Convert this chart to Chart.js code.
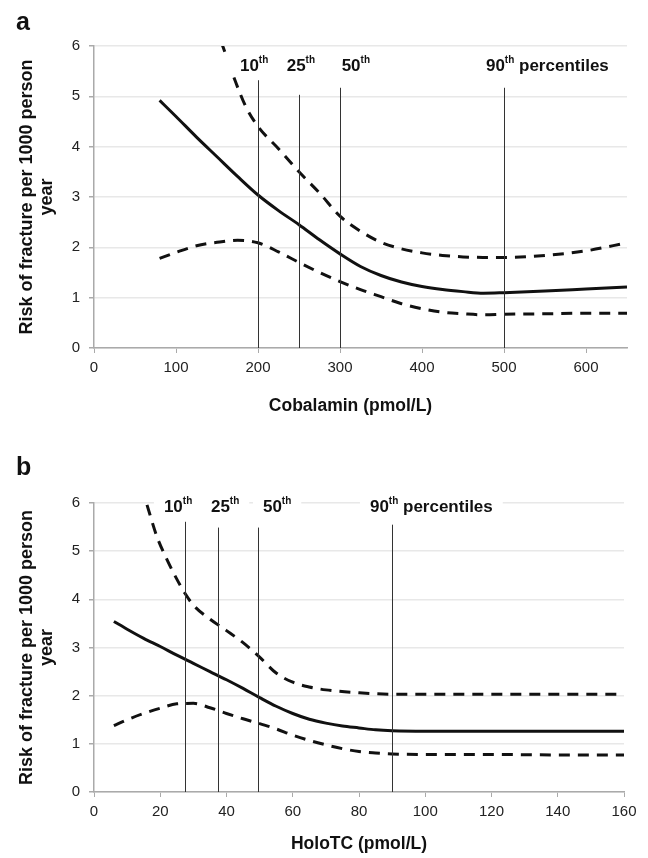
<!DOCTYPE html>
<html>
<head>
<meta charset="utf-8">
<script src="https://cdn.jsdelivr.net/npm/chart.js@4.4.1/dist/chart.umd.min.js"></script>
<style>
  html, body { margin: 0; padding: 0; background: #fff; }
  body { width: 648px; height: 858px; position: relative; overflow: hidden; font-family: 'Liberation Sans', Arial, sans-serif; }
  .wrap { position: absolute; left: 0; }
  .panel-letter { position: absolute; left: 16px; font-size: 25px; font-weight: bold; line-height: 25px; color: #111; }
</style>
</head>
<body>
<div class="wrap" style="top:0"><canvas id="chartA" width="648" height="430"></canvas></div>
<div class="wrap" style="top:430px"><canvas id="chartB" width="648" height="428"></canvas></div>
<div class="panel-letter" style="top:9px">a</div>
<div class="panel-letter" style="top:454px">b</div>
<script>
// Panel a - cobalamin
const cobX = [80, 100, 125, 150, 175, 200, 225, 250, 275, 300, 325, 350, 375, 400, 425, 450, 475, 500, 550, 600, 650];
const cobEst = [4.92, 4.60, 4.19, 3.80, 3.41, 3.04, 2.73, 2.45, 2.15, 1.87, 1.62, 1.44, 1.31, 1.22, 1.16, 1.12, 1.09, 1.10, 1.13, 1.17, 1.21];
const cobLow = [1.78, 1.90, 2.03, 2.10, 2.14, 2.09, 1.91, 1.70, 1.50, 1.32, 1.16, 1.02, 0.88, 0.78, 0.71, 0.68, 0.66, 0.67, 0.68, 0.69, 0.69];
const cobUpX = [155, 174, 185, 200, 225, 250, 275, 300, 325, 350, 375, 400, 425, 450, 475, 500, 550, 600, 650];
const cobUp = [6.09, 5.23, 4.80, 4.40, 3.96, 3.50, 3.08, 2.62, 2.32, 2.10, 1.97, 1.89, 1.84, 1.81, 1.80, 1.80, 1.84, 1.93, 2.09];
const cobTicks = [0, 100, 200, 300, 400, 500, 600];
const cobPct = [200, 250, 300, 500];

// Panel b - holoTC
const holoX = [6, 10, 15, 20, 25, 30, 35, 40, 45, 50, 55, 60, 65, 70, 75, 80, 85, 90, 100, 120, 140, 160];
const holoEst = [3.54, 3.38, 3.19, 3.02, 2.84, 2.67, 2.50, 2.33, 2.15, 1.96, 1.78, 1.63, 1.51, 1.43, 1.37, 1.33, 1.29, 1.27, 1.26, 1.26, 1.26, 1.26];
const holoLow = [1.38, 1.50, 1.63, 1.74, 1.83, 1.84, 1.75, 1.63, 1.52, 1.42, 1.31, 1.18, 1.07, 0.98, 0.90, 0.84, 0.81, 0.79, 0.78, 0.78, 0.77, 0.77];
const holoUpX = [16, 19, 22, 25, 27.5, 30, 35, 40, 45, 50, 55, 60, 65, 70, 80, 90, 100, 120, 140, 160];
const holoUp = [5.96, 5.30, 4.83, 4.42, 4.12, 3.88, 3.59, 3.35, 3.10, 2.80, 2.47, 2.28, 2.18, 2.12, 2.06, 2.03, 2.03, 2.03, 2.03, 2.03];
const holoTicks = [0, 20, 40, 60, 80, 100, 120, 140, 160];
const holoPct = [27.5, 37.5, 49.5, 90];

const riskTicks = [0, 1, 2, 3, 4, 5, 6];
const pctNames = ['10', '25', '50', '90'];
const pctTail = ' percentiles';
const yTitle = ['Risk of fracture per 1000 person', 'year'];

const FAMILY = "'Liberation Sans', Arial, sans-serif";

function pts(xs, ys) {
    return xs.map((x, i) => ({ x: x, y: ys[i] }));
}

function curve(xs, ys, dashed) {
    return {
        data: pts(xs, ys),
        borderColor: '#111',
        borderWidth: 3,
        borderDash: dashed ? [11, 8] : [],
        pointRadius: 0,
        cubicInterpolationMode: 'monotone',
        fill: false,
        clip: 0
    };
}

// vertical percentile lines + their labels on white boxes
const percentilePlugin = {
    id: 'percentiles',
    afterDatasetsDraw(chart, args, opts) {
        const { ctx, scales: { x, y } } = chart;
        ctx.save();
        ctx.strokeStyle = '#333';
        ctx.lineWidth = 1;
        opts.values.forEach((v, i) => {
            const px = Math.round(x.getPixelForValue(v)) + 0.5;
            ctx.beginPath();
            ctx.moveTo(px, y.getPixelForValue(0));
            ctx.lineTo(px, y.getPixelForValue(opts.tops[i]));
            ctx.stroke();
        });
        const base = y.getPixelForValue(opts.baseline);
        opts.names.forEach((name, i) => {
            const runs = [{ t: name, size: 17, rise: 0 }, { t: 'th', size: 10, rise: 8 }];
            if (i === opts.names.length - 1) runs.push({ t: opts.tail, size: 17, rise: 0 });
            let w = 0;
            runs.forEach(r => {
                ctx.font = 'bold ' + r.size + 'px ' + FAMILY;
                r.w = ctx.measureText(r.t).width;
                w += r.w;
            });
            let lx = x.getPixelForValue(opts.labelX[i]);
            ctx.fillStyle = '#fff';
            ctx.fillRect(lx - opts.padX, base - 18, w + 2 * opts.padX, 24);
            ctx.fillStyle = '#111';
            ctx.textAlign = 'left';
            ctx.textBaseline = 'alphabetic';
            runs.forEach(r => {
                ctx.font = 'bold ' + r.size + 'px ' + FAMILY;
                ctx.fillText(r.t, lx, base - r.rise);
                lx += r.w;
            });
        });
        ctx.restore();
    }
};

const xTitlePlugin = {
    id: 'xTitle',
    afterDraw(chart, args, opts) {
        const { ctx, chartArea } = chart;
        ctx.save();
        ctx.font = 'bold 17.5px ' + FAMILY;
        ctx.fillStyle = '#111';
        ctx.textAlign = 'center';
        ctx.textBaseline = 'middle';
        ctx.fillText(opts.text, (chartArea.left + chartArea.right) / 2 + opts.shift, chartArea.bottom + opts.offset);
        ctx.restore();
    }
};

function makeChart(id, cfg) {
    const ctx = document.getElementById(id).getContext('2d');
    return new Chart(ctx, {
        type: 'line',
        data: { datasets: cfg.datasets },
        plugins: [percentilePlugin, xTitlePlugin],
        options: {
            responsive: false,
            devicePixelRatio: 1,
            animation: false,
            layout: { padding: { top: cfg.padTop, right: cfg.padRight, left: 0, bottom: 0 } },
            plugins: {
                legend: { display: false },
                tooltip: { enabled: false },
                percentiles: cfg.percentiles,
                xTitle: cfg.xTitle
            },
            scales: {
                x: {
                    type: 'linear',
                    min: 0,
                    max: cfg.xMax,
                    afterBuildTicks: s => { s.ticks = cfg.xTicks.map(v => ({ value: v })); },
                    afterFit: s => { s.height = cfg.xHeight; },
                    grid: { drawOnChartArea: false, tickColor: '#aaa', tickLength: 5 },
                    border: { color: '#aaa', width: 1.5 },
                    ticks: { color: '#222', font: { size: 15, family: FAMILY }, padding: 6, maxRotation: 0, autoSkip: false }
                },
                y: {
                    type: 'linear',
                    min: 0,
                    max: 6,
                    afterBuildTicks: s => { s.ticks = riskTicks.map(v => ({ value: v })); },
                    afterFit: s => { s.width = 94; },
                    grid: { color: '#e8e8e8', lineWidth: 1.5, tickColor: '#aaa', tickLength: 5 },
                    border: { color: '#aaa', width: 1.5 },
                    ticks: { color: '#222', font: { size: 15, family: FAMILY }, padding: 9 },
                    title: {
                        display: true,
                        text: yTitle,
                        color: '#111',
                        font: { size: 18, weight: 'bold', family: FAMILY, lineHeight: 1.1 },
                        padding: { top: 17.5, bottom: 0 }
                    }
                }
            }
        }
    });
}

makeChart('chartA', {
    datasets: [curve(cobX, cobEst, false), curve(cobUpX, cobUp, true), curve(cobX, cobLow, true)],
    xMax: 650,
    xTicks: cobTicks,
    xHeight: 82,
    padTop: 46,
    padRight: 21,
    percentiles: { values: cobPct, tops: [5.32, 5.03, 5.17, 5.17], names: pctNames, tail: pctTail,
                   labelX: [178, 235, 302, 478], baseline: 5.51, padX: 16 },
    xTitle: { text: 'Cobalamin (pmol/L)', shift: -10, offset: 58.5 }
});

makeChart('chartB', {
    datasets: [curve(holoX, holoEst, false), curve(holoUpX, holoUp, true), curve(holoX, holoLow, true)],
    xMax: 160,
    xTicks: holoTicks,
    xHeight: 66,
    padTop: 73,
    padRight: 24,
    percentiles: { values: holoPct, tops: [5.61, 5.49, 5.49, 5.55], names: pctNames, tail: pctTail,
                   labelX: [21.1, 35.3, 51.0, 83.3], baseline: 5.82, padX: 10 },
    xTitle: { text: 'HoloTC (pmol/L)', shift: 0, offset: 52 }
});
</script>
</body>
</html>
